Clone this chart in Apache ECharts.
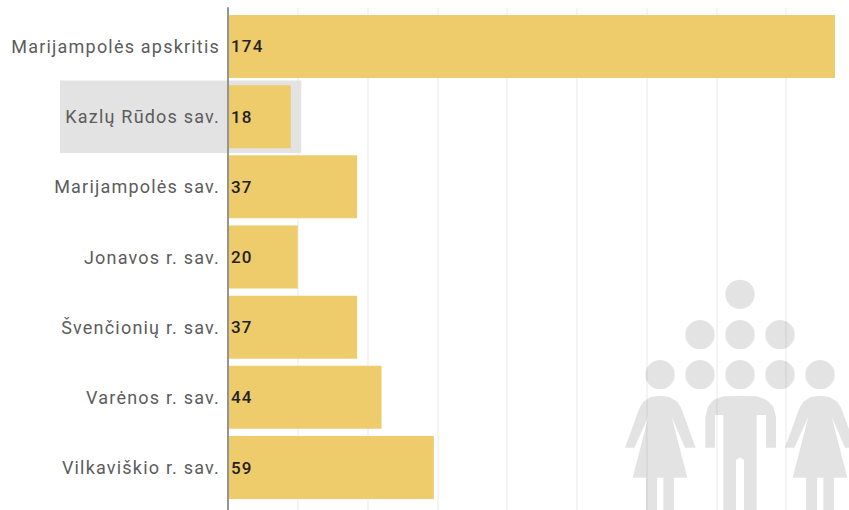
<!DOCTYPE html>
<html>
<head>
<meta charset="utf-8">
<style>html,body{margin:0;padding:0;background:#fff}#c{width:849px;height:510px}#c svg text{letter-spacing:1.2px}</style>
<script src="https://cdn.jsdelivr.net/npm/echarts@6/dist/echarts.min.js"></script>
</head>
<body>
<div id="c"></div>
<script>
const categories = ['Marijampolės apskritis','Kazlų Rūdos sav.','Marijampolės sav.','Jonavos r. sav.','Švenčionių r. sav.','Varėnos r. sav.','Vilkaviškio r. sav.'];
const values = [174,18,37,20,37,44,59];
const highlighted = ['Kazlų Rūdos sav.'];
const highlightReach = [21];

const ICON = '#e3e3e3';
const womanOutline = [[180,407],[152,411],[130,425],[118,445],[75,563],[103,563],[145,470],[98,653],[138,653],[138,750],[171,750],[171,653],[190,653],[190,750],[222,750],[222,653],[262,653],[215,470],[255,563],[287,563],[244,445],[232,425],[208,411]];
const manOutline = [[420,407],[370,409],[340,420],[324,440],[316,470],[316,563],[345,563],[345,465],[370,465],[370,750],[408,750],[408,600],[420,592],[432,600],[432,750],[470,750],[470,465],[498,465],[498,563],[528,563],[528,470],[520,440],[500,420],[470,409]];
const dots = [[420,103],[300,224],[420,224],[540,224],[180,344],[300,344],[420,344],[540,344],[660,344]];
const toPage = p => [600 + p[0] / 3, 260 + p[1] / 3];
const iconParts = [
  ...dots.map(d => { const c = toPage(d); return {type:'circle', silent:true, z:0, shape:{cx:c[0], cy:c[1], r:14.7}, style:{fill:ICON}}; }),
  {type:'polygon', silent:true, z:0, shape:{points:womanOutline.map(toPage)}, style:{fill:ICON}},
  {type:'polygon', silent:true, z:0, shape:{points:manOutline.map(toPage)}, style:{fill:ICON}},
  {type:'polygon', silent:true, z:0, shape:{points:womanOutline.map(p => toPage([p[0]+480,p[1]]))}, style:{fill:ICON}}
];

const chart = echarts.init(document.getElementById('c'), null, {renderer:'svg'});
chart.setOption({
  animation:false,
  backgroundColor:'#fff',
  graphic:{elements:iconParts},
  grid:[
    {left:228, right:0, top:11.4, bottom:7.4},
    {left:228, right:0, top:8, bottom:0}
  ],
  xAxis:[
    {gridIndex:0, type:'value', min:0, max:178, interval:20, show:false},
    {gridIndex:1, type:'value', min:0, max:178, interval:20, z:1,
     axisLine:{show:false}, axisTick:{show:false}, axisLabel:{show:false},
     splitLine:{show:true, showMaxLine:false, lineStyle:{color:'rgba(0,0,0,0.06)', width:1.5}}}
  ],
  yAxis:[
    {gridIndex:0, type:'category', inverse:true, data:categories, z:4,
     axisLine:{show:false}, axisTick:{show:false}, splitLine:{show:false},
     axisLabel:{margin:8, color:'#5c5c5c', fontFamily:'Roboto', fontSize:18, fontWeight:400}},
    {gridIndex:1, type:'value', min:0, max:1, z:4,
     axisLine:{show:true, lineStyle:{color:'#949494', width:2}}, axisTick:{show:false}, axisLabel:{show:false}, splitLine:{show:false}}
  ],
  series:[
    {type:'custom', xAxisIndex:0, yAxisIndex:0, z:1.5, clip:false, silent:true,
     encode:{x:0, y:1},
     data:highlighted.map((c,i) => [highlightReach[i], c]),
     renderItem:(params, api) => {
       const end = api.coord([api.value(0), api.value(1)]);
       const origin = api.coord([0, api.value(1)]);
       const h = 72.5;
       return {type:'rect', shape:{x:origin[0]-168, y:end[1]-h/2, width:end[0]-origin[0]+168, height:h}, style:{fill:'#e3e3e3'}};
     }},
    {type:'bar', xAxisIndex:0, yAxisIndex:0, data:values, z:2, barWidth:63,
     itemStyle:{color:'#eecb6b'},
     label:{show:true, position:'insideLeft', distance:3, color:'#222', fontFamily:'Roboto', fontSize:17, fontWeight:500}}
  ]
});
</script>
</body>
</html>
